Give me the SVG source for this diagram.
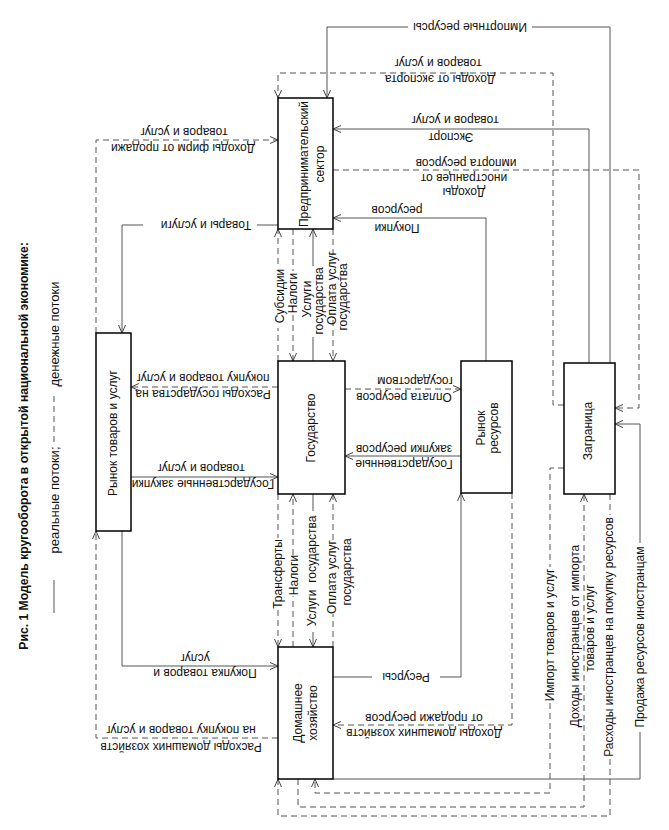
<svg xmlns="http://www.w3.org/2000/svg" width="669" height="830" viewBox="0 0 669 830">
<style>
.bg{fill:#fff}
.box{fill:#fff;stroke:#000;stroke-width:1.5}
.t{font-family:"Liberation Sans",Arial,sans-serif;font-size:12px;fill:#111;text-anchor:middle}
.ti{font-family:"Liberation Sans",Arial,sans-serif;font-size:12.2px;font-weight:bold;fill:#111;text-anchor:middle}
.lg{font-family:"Liberation Sans",Arial,sans-serif;font-size:13px;fill:#111;text-anchor:middle}
.s{fill:none;stroke:#555;stroke-width:1}
.d{fill:none;stroke:#555;stroke-width:1;stroke-dasharray:6 4}
.a{marker-end:url(#ah)}
</style>
<defs>
<marker id="ah" markerUnits="userSpaceOnUse" markerWidth="10" markerHeight="8" refX="8" refY="4" orient="auto" overflow="visible">
<path d="M0,0.5 L8,4 L0,7.5" fill="none" stroke="#444" stroke-width="1"/>
</marker>
</defs>
<rect class="bg" x="0" y="0" width="669" height="830"/>

<g id="title">
<text class="ti" x="24" y="449.8" transform="rotate(-90 24 446)">Рис. 1 Модель кругооборота в открытой национальной экономике:</text>
</g>
<g id="legend">
<line class="s" x1="54" y1="613" x2="54" y2="580"/>
<text class="lg" x="54" y="504.5" transform="rotate(-90 54 500)">реальные потоки;</text>
<line class="d" x1="54" y1="442" x2="54" y2="393"/>
<text class="lg" x="54" y="338.5" transform="rotate(-90 54 334)">денежные потоки</text>
</g>

<g id="connectors">
<g id="c-import-res">
<polyline class="s" points="610,363 610,27 532,27"/>
<polyline class="s a" points="408,27 327,27 327,98"/>
<text class="t" x="470" y="30.8" transform="rotate(180 470 27)">Импортные ресурсы</text>
</g>
<g id="c-export-income">
<polyline class="d a" points="564,405 553,405 553,73 278,73 278,98"/>
<text class="t" x="440" y="82.8" transform="rotate(180 440 79)">Доходы от экспорта</text>
<text class="t" x="438" y="66.8" transform="rotate(180 438 63)">товаров и услуг</text>
</g>
<g id="c-export">
<polyline class="s a" points="589,363 589,129 333,129"/>
<text class="t" x="455" y="123.8" transform="rotate(180 455 120)">товаров и услуг</text>
<text class="t" x="451" y="140.8" transform="rotate(180 451 137)">Экспорт</text>
</g>
<g id="c-import-res-income">
<polyline class="d a" points="333,170 639,170 639,408 615,408"/>
<text class="t" x="466" y="166.8" transform="rotate(180 466 163)">импорта ресурсов</text>
<text class="t" x="464" y="181.8" transform="rotate(180 464 178)">иностранцев от</text>
<text class="t" x="464" y="195.8" transform="rotate(180 464 192)">Доходы</text>
</g>
<g id="c-res-purchase">
<polyline class="s a" points="486,361 486,218 333,218"/>
<text class="t" x="397" y="213.8" transform="rotate(180 397 210)">ресурсов</text>
<text class="t" x="397" y="231.8" transform="rotate(180 397 228)">Покупки</text>
</g>
<g id="c-firm-income">
<polyline class="d a" points="96,333 96,140 278,140"/>
<text class="t" x="184" y="135.8" transform="rotate(180 184 132)">товаров и услуг</text>
<text class="t" x="183" y="151.8" transform="rotate(180 183 148)">Доходы фирм от продажи</text>
</g>
<g id="c-goods">
<polyline class="s" points="278,225 257,225"/>
<polyline class="s a" points="143,225 122,225 122,333"/>
<text class="t" x="206" y="228.8" transform="rotate(180 206 225)">Товары и услуги</text>
</g>
<g id="c-gov-spend">
<polyline class="d a" points="278,387 131,387"/>
<text class="t" x="203" y="381.8" transform="rotate(180 203 378)">покупку товаров и услуг</text>
<text class="t" x="203" y="397.8" transform="rotate(180 203 394)">Расходы государства на</text>
</g>
<g id="c-gov-goods">
<polyline class="s a" points="131,477 278,477"/>
<text class="t" x="201" y="471.8" transform="rotate(180 201 468)">товаров и услуг</text>
<text class="t" x="203" y="487.8" transform="rotate(180 203 484)">Государственные закупки</text>
</g>
<g id="c-gov-res-pay">
<polyline class="d a" points="345,389 461,389"/>
<text class="t" x="415" y="384.8" transform="rotate(180 415 381)">государством</text>
<text class="t" x="404" y="400.8" transform="rotate(180 404 397)">Оплата ресурсов</text>
</g>
<g id="c-gov-res">
<polyline class="s a" points="461,456 345,456"/>
<text class="t" x="404" y="452.8" transform="rotate(180 404 449)">закупки ресурсов</text>
<text class="t" x="404" y="467.8" transform="rotate(180 404 464)">Государственные</text>
</g>
<g id="c-hh-buy">
<polyline class="s a" points="122,531 122,666 278,666"/>
<text class="t" x="195" y="661.8" transform="rotate(180 195 658)">услуг</text>
<text class="t" x="205" y="676.8" transform="rotate(180 205 673)">Покупка товаров и</text>
</g>
<g id="c-hh-spend">
<polyline class="d a" points="278,738 96,738 96,531"/>
<text class="t" x="181" y="733.8" transform="rotate(180 181 730)">на покупку товаров и услуг</text>
<text class="t" x="181" y="750.8" transform="rotate(180 181 747)">Расходы домашних хозяйств</text>
</g>
<g id="c-resources">
<polyline class="s" points="333,677 372,677"/>
<polyline class="s a" points="440,677 461,677 461,493"/>
<text class="t" x="406" y="680.8" transform="rotate(180 406 677)">Ресурсы</text>
</g>
<g id="c-hh-income">
<polyline class="d a" points="512,493 512,725 333,725"/>
<text class="t" x="424" y="721.8" transform="rotate(180 424 718)">от продажи ресурсов</text>
<text class="t" x="424" y="736.8" transform="rotate(180 424 733)">Доходы домашних хозяйств</text>
</g>
<g id="c-subsidies">
<polyline class="d" points="278,361 278,328"/>
<polyline class="d a" points="278,264 278,229"/>
<text class="t" x="280" y="300.2" transform="rotate(-90 280 296)">Субсидии</text>
</g>
<g id="c-tax-firm">
<polyline class="d" points="293,229 293,271"/>
<polyline class="d a" points="293,315 293,361"/>
<text class="t" x="293" y="297.2" transform="rotate(-90 293 293)">Налоги</text>
</g>
<g id="c-gov-serv-firm">
<polyline class="s" points="313,361 313,337"/>
<polyline class="s a" points="313,266 313,229"/>
<text class="t" x="307" y="303.2" transform="rotate(-90 307 299)">Услуги</text>
<text class="t" x="319" y="305.2" transform="rotate(-90 319 301)">государства</text>
</g>
<g id="c-gov-serv-pay-firm">
<polyline class="d" points="333,229 333,256"/>
<polyline class="d a" points="333,320 333,361"/>
<text class="t" x="332" y="292.2" transform="rotate(-90 332 288)">Оплата услуг</text>
<text class="t" x="343" y="301.2" transform="rotate(-90 343 297)">государства</text>
</g>
<g id="c-transfers">
<polyline class="d" points="278,494 278,538"/>
<polyline class="d a" points="278,610 278,647"/>
<text class="t" x="278" y="578.2" transform="rotate(-90 278 574)">Трансферты</text>
</g>
<g id="c-tax-hh">
<polyline class="d" points="293,647 293,596"/>
<polyline class="d a" points="293,555 293,494"/>
<text class="t" x="294" y="579.2" transform="rotate(-90 294 575)">Налоги</text>
</g>
<g id="c-gov-serv-hh">
<polyline class="s" points="313,494 313,511"/>
<polyline class="s a" points="313,632 313,647"/>
<text class="t" x="312" y="575.2" transform="rotate(-90 312 571)">Услуги&#160; государства</text>
</g>
<g id="c-gov-serv-pay-hh">
<polyline class="d" points="333,647 333,614"/>
<polyline class="d a" points="333,540 333,494"/>
<text class="t" x="332" y="581.2" transform="rotate(-90 332 577)">Оплата услуг</text>
<text class="t" x="347" y="576.2" transform="rotate(-90 347 572)">государства</text>
</g>
<g id="c-import-goods">
<polyline class="d" points="564,468 550,468 550,567"/>
<polyline class="d a" points="550,703 550,793 315,793 315,779"/>
<text class="t" x="550" y="639.2" transform="rotate(-90 550 635)">Импорт товаров и услуг</text>
</g>
<g id="c-foreign-import-income">
<polyline class="d a" points="298,779 298,807 584,807 584,494"/>
<text class="t" x="575" y="640.2" transform="rotate(-90 575 636)">Доходы иностранцев от импорта</text>
<text class="t" x="590" y="632.2" transform="rotate(-90 590 628)">товаров и услуг</text>
</g>
<g id="c-foreign-res-spend">
<polyline class="d" points="610,494 610,515"/>
<polyline class="d a" points="610,759 610,816 278,816 278,779"/>
<text class="t" x="609" y="641.2" transform="rotate(-90 609 637)">Расходы иностранцев на покупку ресурсов</text>
</g>
<g id="c-res-sale-foreign">
<polyline class="s" points="333,779 640,779 640,732"/>
<polyline class="s a" points="640,543 640,424 615,424"/>
<text class="t" x="640" y="641.2" transform="rotate(-90 640 637)">Продажа ресурсов иностранцам</text>
</g>
</g>

<g id="n-firms">
<rect class="box" x="278" y="98" width="55" height="131"/>
<text class="t" x="304" y="168.2" transform="rotate(-90 304 164)">Предпринимательский</text>
<text class="t" x="320" y="168.2" transform="rotate(-90 320 164)">сектор</text>
</g>
<g id="n-goods-market">
<rect class="box" x="96" y="333" width="35" height="198"/>
<text class="t" x="113" y="437.2" transform="rotate(-90 113 433)">Рынок товаров и услуг</text>
</g>
<g id="n-state">
<rect class="box" x="278" y="361" width="67" height="133"/>
<text class="t" x="311" y="432.2" transform="rotate(-90 311 428)">Государство</text>
</g>
<g id="n-res-market">
<rect class="box" x="461" y="361" width="51" height="132"/>
<text class="t" x="481" y="432.2" transform="rotate(-90 481 428)">Рынок</text>
<text class="t" x="494" y="432.2" transform="rotate(-90 494 428)">ресурсов</text>
</g>
<g id="n-abroad">
<rect class="box" x="564" y="363" width="51" height="131"/>
<text class="t" x="588" y="435.2" transform="rotate(-90 588 431)">Заграница</text>
</g>
<g id="n-household">
<rect class="box" x="278" y="647" width="55" height="132"/>
<text class="t" x="298" y="717.2" transform="rotate(-90 298 713)">Домашнее</text>
<text class="t" x="313" y="717.2" transform="rotate(-90 313 713)">хозяйство</text>
</g>
</svg>
